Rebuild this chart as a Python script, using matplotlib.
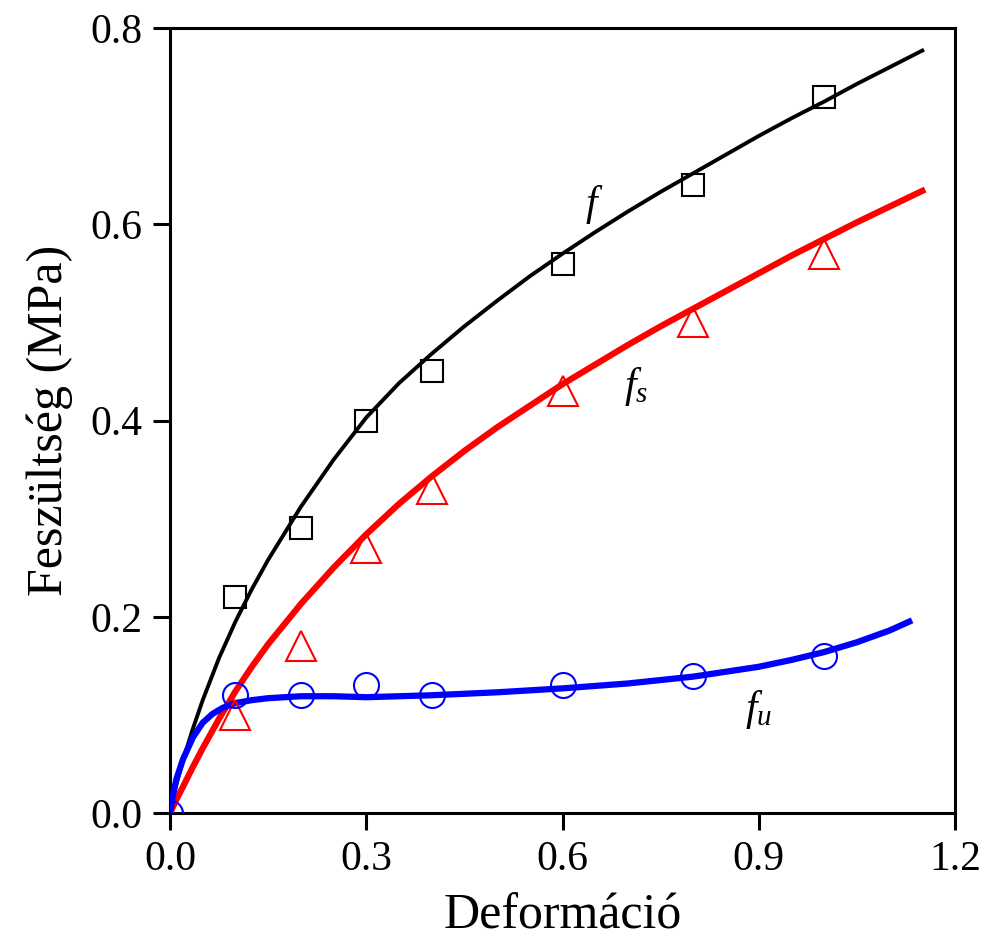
import matplotlib.pyplot as plt

plt.rcParams['font.family'] = ['Liberation Serif', 'DejaVu Serif']
plt.rcParams['mathtext.fontset'] = 'custom'
plt.rcParams['mathtext.it'] = 'Liberation Serif:italic'
plt.rcParams['mathtext.rm'] = 'Liberation Serif'

# measured points
x_meas = [0.1, 0.2, 0.3, 0.4, 0.6, 0.8, 1.0]
f_meas = [0.22, 0.29, 0.40, 0.45, 0.56, 0.64, 0.73]
fs_meas = [0.10, 0.17, 0.27, 0.33, 0.43, 0.50, 0.57]
x_fu_meas = [0.0, 0.1, 0.2, 0.3, 0.4, 0.6, 0.8, 1.0]
fu_meas = [0.0, 0.12, 0.12, 0.13, 0.12, 0.13, 0.14, 0.16]

# fitted curves
x_fit = [0.0, 0.005, 0.01, 0.02, 0.035, 0.05, 0.075, 0.1, 0.125, 0.15, 0.2, 0.25,
         0.3, 0.35, 0.4, 0.45, 0.5, 0.55, 0.6, 0.65, 0.7, 0.75, 0.8, 0.85, 0.9,
         0.95, 1.0, 1.05, 1.1, 1.15]
f_fit = [0.0, 0.016, 0.030, 0.054, 0.086, 0.115, 0.158, 0.195, 0.228, 0.258, 0.312,
         0.360, 0.403, 0.438, 0.468, 0.496, 0.522, 0.547, 0.570, 0.592, 0.613,
         0.633, 0.652, 0.671, 0.690, 0.708, 0.725, 0.743, 0.760, 0.777]
fs_fit = [0.0, 0.007, 0.014, 0.027, 0.047, 0.066, 0.096, 0.124, 0.149, 0.172, 0.213,
          0.250, 0.284, 0.315, 0.343, 0.369, 0.393, 0.415, 0.437, 0.457, 0.477,
          0.496, 0.514, 0.532, 0.550, 0.568, 0.585, 0.602, 0.618, 0.634]
x_fu_fit = [0.0, 0.005, 0.01, 0.02, 0.035, 0.05, 0.065, 0.08, 0.1, 0.125, 0.15, 0.2,
            0.25, 0.3, 0.35, 0.4, 0.5, 0.6, 0.7, 0.8, 0.85, 0.9, 0.95, 1.0, 1.05,
            1.1, 1.13]
fu_fit = [0.0, 0.020, 0.035, 0.055, 0.077, 0.092, 0.101, 0.107, 0.112, 0.115, 0.117,
          0.119, 0.119, 0.118, 0.119, 0.120, 0.123, 0.127, 0.132, 0.139, 0.144,
          0.149, 0.156, 0.164, 0.174, 0.186, 0.195]

fig = plt.figure(figsize=(9.85, 9.41), dpi=100)
ax = fig.add_axes([170 / 985, 128 / 941, 785 / 985, 785 / 941])

ax.plot(x_fit, f_fit, color='black', lw=2.8, zorder=3)
ax.plot(x_fit, fs_fit, color='red', lw=4.5, zorder=3)
ax.plot(x_fu_fit, fu_fit, color='blue', lw=4.5, zorder=4)

ax.plot(x_meas, f_meas, ls='none', marker='s', ms=16, mfc='none', mec='black', mew=1.5, zorder=5)
ax.plot(x_meas, fs_meas, ls='none', marker='^', ms=21, mfc='none', mec='red', mew=1.5, zorder=5)
ax.plot(x_fu_meas, fu_meas, ls='none', marker='o', ms=18, mfc='none', mec='blue', mew=1.5, zorder=5)

ax.text(0.648, 0.62, '$f$', fontsize=30, ha='center', va='center')
ax.text(0.712, 0.435, '$f_s$', fontsize=30, ha='center', va='center')
ax.text(0.9, 0.105, '$f_u$', fontsize=30, ha='center', va='center')

ax.set_xlim(0, 1.2)
ax.set_ylim(0, 0.8)
ax.set_xticks([0.0, 0.3, 0.6, 0.9, 1.2])
ax.set_yticks([0.0, 0.2, 0.4, 0.6, 0.8])
ax.set_xticklabels(['0.0', '0.3', '0.6', '0.9', '1.2'])
ax.set_yticklabels(['0.0', '0.2', '0.4', '0.6', '0.8'])
ax.tick_params(direction='out', length=12, width=2.2, labelsize=30, pad=8)
for s in ax.spines.values():
    s.set_linewidth(2.2)
ax.set_xlabel('Deformáció', fontsize=36, labelpad=10)
ax.set_ylabel('Feszültség (MPa)', fontsize=36, labelpad=12)

fig.savefig('out.png', dpi=100)
